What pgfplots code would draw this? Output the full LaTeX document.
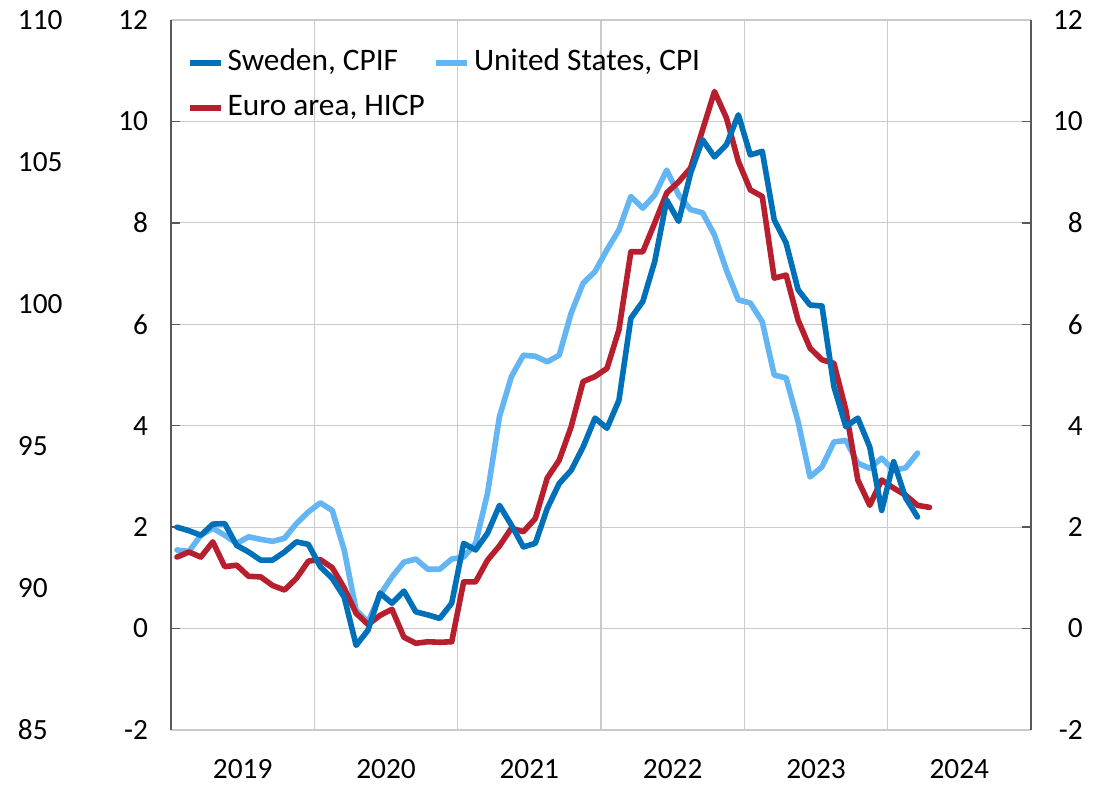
\documentclass[border=0pt]{standalone}
\usepackage{fontspec}
\setmainfont{Carlito}
\usepackage{pgfplots}
\pgfplotsset{compat=1.18}
\definecolor{swe}{HTML}{0070B8}
\definecolor{usa}{HTML}{63B6F3}
\definecolor{eur}{HTML}{B81F2E}
\definecolor{gridc}{HTML}{CACACA}
\definecolor{axc}{HTML}{595959}
\newcommand{\tfont}{\fontsize{22}{26}\selectfont}
\begin{document}
\begin{tikzpicture}
\pgfplotsset{
  base/.style={scale only axis, width=645pt, height=532.5pt, xmin=0, xmax=72, ymin=-2, ymax=12, at={(0,0)}, anchor=south west},
}
\path[use as bounding box] (-128.25pt,-40.5pt) rectangle (692.25pt,547.5pt);

% outer left scale 85-110
\begin{axis}[base, ymin=85, ymax=110, ytick={85,90,95,100,105,110}, yticklabels={85,90,95,100,105,110},
  hide x axis, axis y line*=left, y axis line style={draw=none}, major tick length=0pt,
  yticklabel style={anchor=west, inner sep=0pt, xshift=-115pt, font=\tfont}]
\end{axis}

% right labels
\begin{axis}[base, ytick={-2,0,2,4,6,8,10,12}, yticklabels={-2,0,2,4,6,8,10,12},
  hide x axis, axis y line*=right, y axis line style={draw=none}, major tick length=0pt,
  yticklabel style={anchor=east, inner sep=0pt, xshift=39pt, font=\tfont}]
\end{axis}

\begin{axis}[base,
  separate axis lines,
  xtick={12,24,36,48,60}, xticklabels={},
  xmajorgrids, ymajorgrids,
  grid style={gridc, line width=0.9pt},
  ytick={-2,0,2,4,6,8,10,12}, yticklabels={-2,0,2,4,6,8,10,12},
  tick align=inside, ytick pos=both, yticklabel pos=left,
  x tick style={draw=none},
  y tick style={axc, line width=1pt},
  major tick length=6.75pt,
  x axis line style={gridc, line width=0.9pt},
  y axis line style={axc, line width=1pt},
  yticklabel style={anchor=east, inner sep=0pt, xshift=-17pt, font=\tfont},
  extra x ticks={6,18,30,42,54,66},
  extra x tick labels={2019,2020,2021,2022,2023,2024},
  extra x tick style={grid=none, tick style={draw=none},
     xticklabel style={anchor=north, inner sep=0pt, yshift=-22pt, font=\tfont}},
  legend columns=2, legend cell align=left,
  legend style={at={(0,1)}, anchor=north west, xshift=12pt, yshift=-21.6pt,
     draw=none, fill=none, inner sep=0pt, outer sep=0pt,
     font=\fontsize{23.5}{28}\selectfont,
     nodes={inner sep=0pt, text height=16pt, text depth=5pt},
     row sep=12.75pt,
     /tikz/every odd column/.append style={column sep=3pt},
     /tikz/every even column/.append style={column sep=6.5pt}},
  legend image code/.code={\draw[#1, line width=4.5pt, line cap=butt] (0pt,0pt) -- (23pt,0pt);},
  every axis plot/.append style={line width=4.2pt, line join=round, line cap=round},
]
\addlegendimage{swe}\addlegendentry{Sweden, CPIF}
\addlegendimage{usa}\addlegendentry{United States, CPI}
\addlegendimage{eur}\addlegendentry{Euro area, HICP}

\addplot[usa, forget plot] table {
x y
0.5 1.55
1.5 1.52
2.5 1.84
3.5 1.98
4.5 1.84
5.5 1.68
6.5 1.81
7.5 1.76
8.5 1.72
9.5 1.78
10.5 2.07
11.5 2.30
12.5 2.48
13.5 2.33
14.5 1.55
15.5 0.36
16.5 0.13
17.5 0.66
18.5 1.02
19.5 1.31
20.5 1.37
21.5 1.17
22.5 1.17
23.5 1.37
24.5 1.41
25.5 1.68
26.5 2.67
27.5 4.18
28.5 4.97
29.5 5.39
30.5 5.37
31.5 5.26
32.5 5.39
33.5 6.22
34.5 6.81
35.5 7.04
36.5 7.47
37.5 7.86
38.5 8.52
39.5 8.29
40.5 8.55
41.5 9.04
42.5 8.55
43.5 8.26
44.5 8.20
45.5 7.76
46.5 7.07
47.5 6.48
48.5 6.42
49.5 6.05
50.5 5.00
51.5 4.94
52.5 4.08
53.5 2.99
54.5 3.19
55.5 3.68
56.5 3.71
57.5 3.26
58.5 3.16
59.5 3.36
60.5 3.12
61.5 3.17
62.5 3.46
};

\addplot[eur, forget plot] table {
x y
0.5 1.41
1.5 1.51
2.5 1.41
3.5 1.71
4.5 1.22
5.5 1.25
6.5 1.03
7.5 1.02
8.5 0.85
9.5 0.76
10.5 0.99
11.5 1.33
12.5 1.36
13.5 1.20
14.5 0.80
15.5 0.30
16.5 0.08
17.5 0.26
18.5 0.38
19.5 -0.17
20.5 -0.29
21.5 -0.26
22.5 -0.27
23.5 -0.26
24.5 0.92
25.5 0.92
26.5 1.35
27.5 1.63
28.5 1.98
29.5 1.91
30.5 2.17
31.5 2.97
32.5 3.32
33.5 3.98
34.5 4.87
35.5 4.97
36.5 5.13
37.5 5.89
38.5 7.43
39.5 7.43
40.5 8.00
41.5 8.59
42.5 8.81
43.5 9.08
44.5 9.83
45.5 10.59
46.5 10.07
47.5 9.21
48.5 8.65
49.5 8.52
50.5 6.91
51.5 6.97
52.5 6.08
53.5 5.53
54.5 5.30
55.5 5.23
56.5 4.31
57.5 2.93
58.5 2.43
59.5 2.93
60.5 2.77
61.5 2.63
62.5 2.43
63.5 2.39
};

\addplot[swe, forget plot] table {
x y
0.5 2.00
1.5 1.93
2.5 1.84
3.5 2.06
4.5 2.07
5.5 1.64
6.5 1.51
7.5 1.35
8.5 1.35
9.5 1.51
10.5 1.71
11.5 1.66
12.5 1.22
13.5 0.99
14.5 0.62
15.5 -0.33
16.5 -0.03
17.5 0.70
18.5 0.50
19.5 0.74
20.5 0.33
21.5 0.27
22.5 0.20
23.5 0.50
24.5 1.68
25.5 1.55
26.5 1.88
27.5 2.43
28.5 2.04
29.5 1.61
30.5 1.68
31.5 2.37
32.5 2.86
33.5 3.12
34.5 3.58
35.5 4.15
36.5 3.95
37.5 4.50
38.5 6.12
39.5 6.45
40.5 7.24
41.5 8.45
42.5 8.03
43.5 8.98
44.5 9.64
45.5 9.30
46.5 9.54
47.5 10.13
48.5 9.34
49.5 9.41
50.5 8.06
51.5 7.60
52.5 6.68
53.5 6.38
54.5 6.36
55.5 4.77
56.5 3.98
57.5 4.15
58.5 3.58
59.5 2.33
60.5 3.29
61.5 2.58
62.5 2.20
};
\end{axis}
\end{tikzpicture}
\end{document}
